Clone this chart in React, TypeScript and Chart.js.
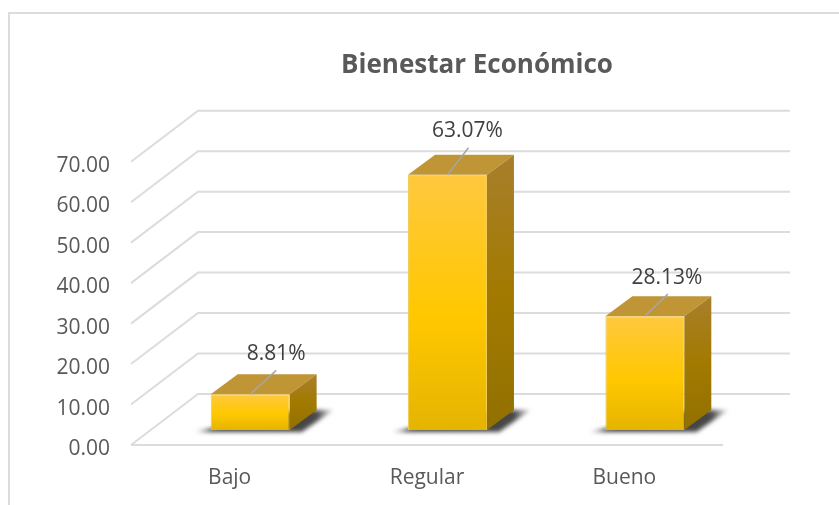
import React, { useEffect, useRef } from "react";
import { Chart, registerables } from "chart.js";

Chart.register(...registerables);

const categories = ["Bajo", "Regular", "Bueno"];
const values = [8.81, 63.07, 28.13];
const valueLabels = ["8.81%", "63.07%", "28.13%"];
const yTicks = [0, 10, 20, 30, 40, 50, 60, 70];
const title = "Bienestar Económico";

const FONT = "'Open Sans', 'Noto Sans', sans-serif";
const GRID = "#DCDCDC";
// projection of the chart's depth axis, in pixels
const WALL = { dx: 67, dy: -51 };
const BAR_SHIFT = { dx: 20.5, dy: -15 };
const BAR_DEPTH = { dx: 27, dy: -20 };
const LABEL_OFFSET = [
  [26, -40],
  [20, -44],
  [22, -38],
];
const LEADER_END = [
  [26, -24],
  [21, -27],
  [23, -22],
];

function poly(ctx: CanvasRenderingContext2D, pts: number[][], fill: string | CanvasGradient) {
  ctx.beginPath();
  pts.forEach((p, i) => (i ? ctx.lineTo(p[0], p[1]) : ctx.moveTo(p[0], p[1])));
  ctx.closePath();
  ctx.fillStyle = fill;
  ctx.fill();
}

const frameAndGrid = {
  id: "frameAndGrid",
  afterLayout(chart: any) {
    // the title sits right of the plot's centre
    chart.titleBlock.left += 115.5;
    chart.titleBlock.right += 115.5;
  },
  beforeDatasetsDraw(chart: any) {
    const { ctx, chartArea, scales } = chart;
    const y = scales.y;
    ctx.save();
    ctx.strokeStyle = GRID;
    ctx.lineWidth = 2;
    ctx.beginPath();
    ctx.moveTo(9, chart.height);
    ctx.lineTo(9, 13);
    ctx.lineTo(chart.width, 13);
    ctx.stroke();
    y.ticks.forEach((t: any) => {
      const py = y.getPixelForValue(t.value);
      ctx.beginPath();
      ctx.moveTo(chartArea.left, py);
      ctx.lineTo(chartArea.left + WALL.dx, py + WALL.dy);
      ctx.lineTo(chartArea.right + WALL.dx, py + WALL.dy);
      ctx.stroke();
    });
    const p0 = y.getPixelForValue(0);
    ctx.beginPath();
    ctx.moveTo(chartArea.left, p0);
    ctx.lineTo(chartArea.right, p0);
    ctx.stroke();
    ctx.restore();
  },
  beforeDatasetDraw(chart: any, args: any) {
    const { ctx } = chart;
    const bars = args.meta.data;
    ctx.save();
    ctx.translate(BAR_SHIFT.dx, BAR_SHIFT.dy);
    bars.forEach((b: any) => {
      const l = b.x - b.width / 2;
      const r = b.x + b.width / 2;
      const d = BAR_DEPTH;
      // floor shadow, fading towards both ends
      const start = l - 17;
      const end = r + d.dx + 17;
      const s = ctx.createLinearGradient(start, 0, end, 0);
      s.addColorStop(0, "rgba(50,50,50,0.1)");
      s.addColorStop((l - start) / (end - start), "rgba(40,40,40,0.9)");
      s.addColorStop((r + d.dx - start) / (end - start), "rgba(40,40,40,0.85)");
      s.addColorStop(1, "rgba(50,50,50,0.1)");
      ctx.save();
      ctx.filter = "blur(2px)";
      poly(
        ctx,
        [
          [start, b.base + 2],
          [r + 12, b.base + 2],
          [end, b.base + d.dy],
          [r + d.dx - 20, b.base + d.dy],
        ],
        s
      );
      ctx.restore();
      // top face
      poly(
        ctx,
        [
          [l, b.y],
          [r, b.y],
          [r + d.dx, b.y + d.dy],
          [l + d.dx, b.y + d.dy],
        ],
        "#BF9535"
      );
      // side face
      const g = ctx.createLinearGradient(0, b.y + d.dy, 0, b.base);
      g.addColorStop(0, "#A87F2C");
      g.addColorStop(0.5, "#A27A00");
      g.addColorStop(1, "#927000");
      poly(
        ctx,
        [
          [r, b.y],
          [r + d.dx, b.y + d.dy],
          [r + d.dx, b.base + d.dy],
          [r, b.base],
        ],
        g
      );
    });
  },
  afterDatasetDraw(chart: any, args: any) {
    const { ctx } = chart;
    ctx.restore();
    ctx.save();
    args.meta.data.forEach((b: any, i: number) => {
      const x = b.x + BAR_SHIFT.dx;
      const y = b.y + BAR_SHIFT.dy;
      ctx.strokeStyle = "#A6A6A6";
      ctx.lineWidth = 1.5;
      ctx.beginPath();
      ctx.moveTo(x, y);
      ctx.lineTo(x + LEADER_END[i][0], y + LEADER_END[i][1]);
      ctx.stroke();
      ctx.fillStyle = "#404040";
      ctx.font = `21px ${FONT}`;
      ctx.textAlign = "center";
      ctx.textBaseline = "middle";
      ctx.fillText(valueLabels[i], x + LABEL_OFFSET[i][0], y + LABEL_OFFSET[i][1]);
    });
    ctx.restore();
  },
};

export default function App() {
  const ref = useRef<HTMLCanvasElement | null>(null);
  useEffect(() => {
    const chart = new Chart(ref.current as HTMLCanvasElement, {
      type: "bar",
      data: {
        labels: categories,
        datasets: [
          {
            label: title,
            data: values,
            barPercentage: 0.4,
            categoryPercentage: 1,
            borderWidth: 1,
            borderColor: "#F2C94A",
            backgroundColor: (c: any) => {
              const el = c.chart.scales.y;
              const { ctx } = c.chart;
              if (!el || !c.parsed) return "#FFC800";
              const top = el.getPixelForValue(c.parsed.y);
              const base = el.getPixelForValue(0);
              if (!Number.isFinite(top) || !Number.isFinite(base)) return "#FFC800";
              const g = ctx.createLinearGradient(0, top, 0, base);
              g.addColorStop(0, "#FFC83F");
              g.addColorStop(0.55, "#FFC800");
              g.addColorStop(1, "#E5B400");
              return g;
            },
          },
        ],
      },
      plugins: [frameAndGrid],
      options: {
        responsive: false,
        animation: false,
        layout: { padding: { left: 0, right: 116, top: 0, bottom: 0 } },
        plugins: {
          legend: { display: false },
          tooltip: { enabled: false },
          title: {
            display: true,
            text: title,
            color: "#595959",
            font: { family: FONT, size: 26, weight: "bold", lineHeight: 1.2 },
            padding: { top: 49.5, bottom: 81 },
          },
        },
        scales: {
          x: {
            grid: { display: false },
            border: { display: false },
            ticks: { color: "#595959", font: { family: FONT, size: 21 }, padding: 12.5 },
            afterFit: (s: any) => {
              s.height = 60;
            },
          },
          y: {
            min: 0,
            max: 70,
            afterBuildTicks: (s: any) => {
              s.ticks = yTicks.map((value) => ({ value }));
            },
            grid: { display: false },
            border: { display: false },
            ticks: {
              color: "#595959",
              font: { family: FONT, size: 21 },
              padding: 13,
              labelOffset: 4,
              callback: (v: any) => Number(v).toFixed(2),
            },
            afterFit: (s: any) => {
              s.width = 131;
            },
          },
        },
      },
    } as any);
    return () => chart.destroy();
  }, []);
  return (
    <div style={{ position: "fixed", left: 0, top: 0, width: 839, height: 505, background: "#fff" }}>
      <canvas ref={ref} width={839} height={505} style={{ display: "block" }} />
    </div>
  );
}
